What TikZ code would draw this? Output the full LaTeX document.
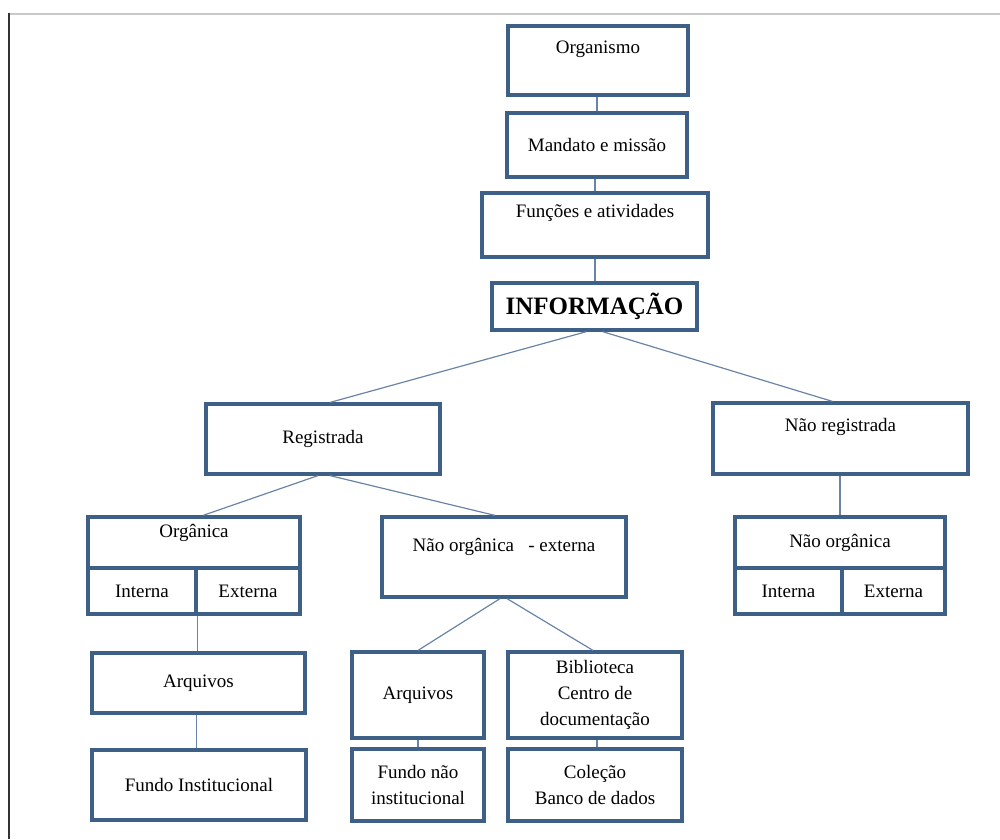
\documentclass[tikz,border=0pt]{standalone}
\usepackage{fontspec}
\setmainfont{Liberation Serif}
\usepackage{xcolor}
\usepackage{tikz}

\definecolor{bordaazul}{RGB}{62,96,134}
\definecolor{linhaazul}{RGB}{105,133,166}
\definecolor{moldura}{RGB}{200,200,200}

\begin{document}
\begin{tikzpicture}[x=1pt,y=-1pt,
    caixa/.style={draw=bordaazul,line width=3.2pt,fill=white,inner sep=0pt,
        text=black,font=\fontsize{19}{26}\selectfont,align=center},
    tam/.style 2 args={minimum width=#1,minimum height=#2},
    acima/.style={text height=13pt,text depth=#1},
    liga/.style={draw=linhaazul,line width=1.2pt}]
\useasboundingbox (0,0) rectangle (1000,839);
\begin{scope}
    % moldura da pagina
    \draw[moldura,line width=2pt] (8,13.5) -- (1000,13.5);
    \draw[black!80,line width=2.5pt] (9,12.5) -- (9,839);

    % coluna central
    \node[caixa,tam={180}{69},acima=27pt] (org) at (598,60.5) {Organismo};
    \node[caixa,tam={180}{64}] (mand) at (597,145) {Mandato e miss\~ao};
    \node[caixa,tam={226}{64},acima=28pt] (func) at (595,225) {Fun\c{c}\~oes e atividades};
    \node[caixa,tam={205}{47},font=\fontsize{25}{30}\selectfont\bfseries] (info) at (594.5,306.5) {INFORMA\c{C}\~AO};

    \draw[liga] (mand.north) -- (mand.north |- org.south);
    \draw[liga] (func.north) -- (func.north |- mand.south);
    \draw[liga] (func.south) -- (func.south |- info.north);

    % segundo nivel
    \node[caixa,tam={234}{70}] (reg) at (323,439) {Registrada};
    \node[caixa,tam={255}{71},acima=27pt] (nreg) at (840.5,438.5) {N\~ao registrada};

    \draw[liga] ([xshift=-8pt]info.south) -- ([xshift=7pt]reg.north);
    \draw[liga] ([xshift=8pt]info.south) -- ([xshift=-8pt]nreg.north);

    % organica / nao organica
    \node[caixa,tam={212}{51},acima=24pt] (orga) at (194,542.5) {Org\^anica};
    \node[caixa,tam={108}{46}] (orgi) at (142,591) {Interna};
    \node[caixa,tam={104}{46}] (orge) at (248,591) {Externa};

    \node[caixa,tam={244}{80},acima=24pt] (nore) at (504,557) {N\~ao org\^anica \ \ - externa};

    \node[caixa,tam={210}{51}] (norg) at (840,542.5) {N\~ao org\^anica};
    \node[caixa,tam={107}{46}] (norgi) at (788.5,591) {Interna};
    \node[caixa,tam={103}{46}] (norge) at (893.5,591) {Externa};

    \draw[liga] ([xshift=-5pt]reg.south) -- ([xshift=9pt]orga.north);
    \draw[liga] ([xshift=7pt]reg.south) -- ([xshift=-9pt]nore.north);
    \draw[liga] (norg.north) -- (norg.north |- nreg.south);

    % acervos
    \node[caixa,tam={213}{60}] (arq1) at (198.5,683) {Arquivos};
    \node[caixa,tam={214}{70}] (fund1) at (199,785) {Fundo Institucional};

    \node[caixa,tam={132}{86}] (arq2) at (418,695) {Arquivos};
    \node[caixa,tam={174}{86}] (bib) at (595,695) {Biblioteca\\Centro de\\documenta\c{c}\~ao};
    \node[caixa,tam={132}{72}] (fund2) at (418,785) {Fundo n\~ao\\institucional};
    \node[caixa,tam={174}{72}] (col) at (595,785) {Cole\c{c}\~ao\\Banco de dados};

    \draw[liga] (orgi.south east) -- (arq1.north -| orgi.south east);
    \draw[liga] ([xshift=-2pt]arq1.south) -- ([xshift=-2pt]fund1.north -| arq1.south);
    \draw[liga] ([xshift=-4pt]nore.south) -- (arq2.north);
    \draw[liga] ([xshift=3pt]nore.south) -- ([xshift=-2pt]bib.north);
    \draw[liga] (arq2.south) -- (fund2.north);
    \draw[liga] ([xshift=2pt]bib.south) -- ([xshift=2pt]col.north);
\end{scope}
\end{tikzpicture}
\end{document}
